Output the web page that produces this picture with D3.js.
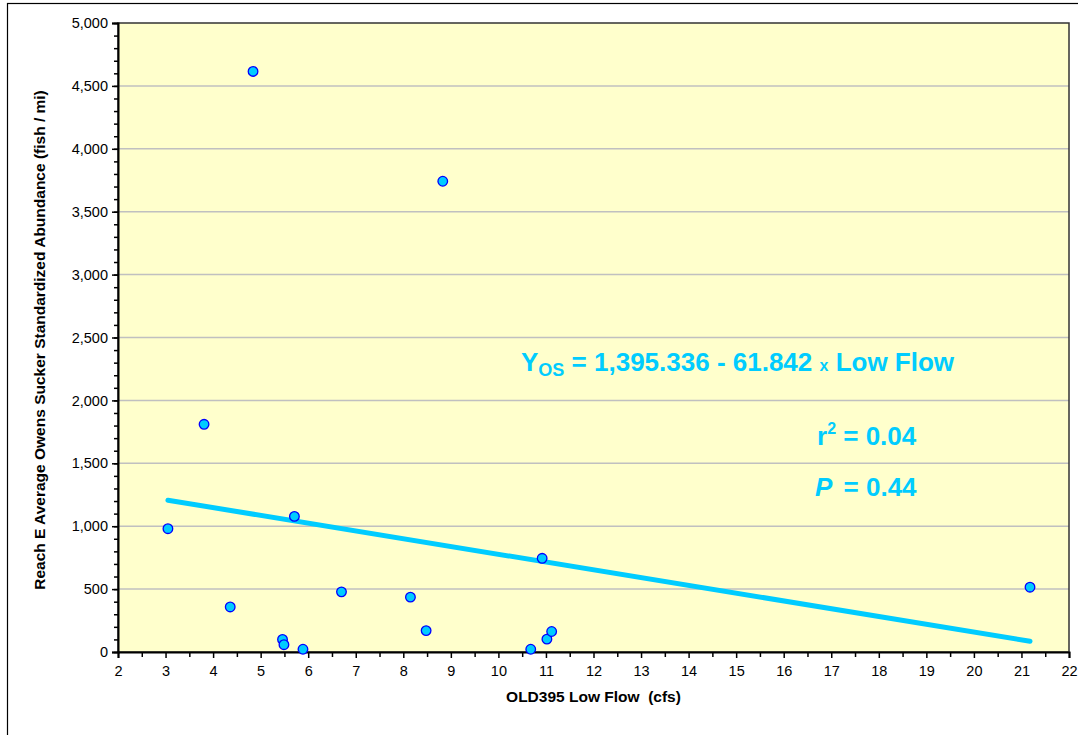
<!DOCTYPE html>
<html>
<head>
<meta charset="utf-8">
<script src="https://d3js.org/d3.v7.min.js"></script>
<style>
    body {
        margin: 0;
        padding: 0;
        background: white;
    }
    svg text {
        font-family: "Liberation Sans", Arial, sans-serif;
    }
</style>
</head>
<body>
<script>
    // low flow (cfs) and abundance (fish / mi)
    var flow = [4.84, 8.83, 3.81, 3.05, 5.71, 4.36, 5.46, 5.49, 5.89, 6.70, 8.15, 8.48, 10.68, 10.92, 11.02, 11.12, 21.18];
    var abundance = [4615, 3742, 1810, 980, 1078, 358, 100, 58, 22, 478, 436, 170, 22, 745, 102, 163, 515];

    // regression Y = a + b * x
    var intercept = 1395.336;
    var slope = -61.842;

    var xTicks = d3.range(2, 23, 1);
    var yTicks = d3.range(0, 5001, 500);

    var width = 1078, height = 735;
    var margin = {top: 23, right: 9, bottom: 83, left: 118};
    var innerW = width - margin.left - margin.right;
    var innerH = height - margin.top - margin.bottom;

    var svg = d3.select('body').append('svg')
        .attr('width', width)
        .attr('height', height);

    // outer chart frame
    svg.append('rect')
        .attr('x', 7.5).attr('y', 3.5)
        .attr('width', width + 10).attr('height', height + 10)
        .attr('fill', 'white')
        .attr('stroke', '#000')
        .attr('stroke-width', 1.2);

    var x = d3.scaleLinear().domain([2, 22]).range([0, innerW]);
    var y = d3.scaleLinear().domain([0, 5000]).range([innerH, 0]);

    var g = svg.append('g')
        .attr('transform', 'translate(' + margin.left + ',' + margin.top + ')');

    g.append('rect')
        .attr('width', innerW).attr('height', innerH)
        .attr('fill', '#FFFFCC');

    // horizontal grid
    g.selectAll('.grid')
        .data(yTicks.filter(function(d) { return d > 0 && d < 5000; }))
        .enter().append('line')
        .attr('x1', 0).attr('x2', innerW)
        .attr('y1', function(d) { return y(d); })
        .attr('y2', function(d) { return y(d); })
        .attr('stroke', '#C0C0C0')
        .attr('stroke-width', 1.5);

    g.append('rect')
        .attr('width', innerW).attr('height', innerH)
        .attr('fill', 'none')
        .attr('stroke', '#333')
        .attr('stroke-width', 1.5);

    // minor ticks
    g.append('g')
        .attr('transform', 'translate(0,' + innerH + ')')
        .call(d3.axisBottom(x).tickValues(d3.range(2.5, 22, 1)).tickSize(5).tickFormat(''))
        .call(function(s) { s.select('.domain').remove(); });
    g.append('g')
        .call(d3.axisLeft(y).tickValues(d3.range(0, 5001, 100)).tickSize(4).tickFormat(''))
        .call(function(s) { s.select('.domain').remove(); });

    var xAxis = g.append('g')
        .attr('transform', 'translate(0,' + innerH + ')')
        .call(d3.axisBottom(x).tickValues(xTicks).tickSize(6).tickPadding(8).tickFormat(d3.format('d')));
    var yAxis = g.append('g')
        .call(d3.axisLeft(y).tickValues(yTicks).tickSize(6).tickPadding(4).tickFormat(d3.format(',')));

    [xAxis, yAxis].forEach(function(a) {
        a.selectAll('text').attr('font-size', 14.5).attr('fill', '#000');
        a.select('.domain').attr('stroke', '#000').attr('stroke-width', 2);
    });
    g.selectAll('.tick line').attr('stroke', '#000').attr('stroke-width', 1.5);

    // trend line across the observed range
    var xr = d3.extent(flow);
    g.append('line')
        .attr('x1', x(xr[0])).attr('y1', y(intercept + slope * xr[0]))
        .attr('x2', x(xr[1])).attr('y2', y(intercept + slope * xr[1]))
        .attr('stroke', '#00CCFF')
        .attr('stroke-width', 5)
        .attr('stroke-linecap', 'round');

    g.selectAll('.pt')
        .data(flow)
        .enter().append('circle')
        .attr('cx', function(d) { return x(d); })
        .attr('cy', function(d, i) { return y(abundance[i]); })
        .attr('r', 4.8)
        .attr('fill', '#00CCFF')
        .attr('stroke', '#0000FF')
        .attr('stroke-width', 1.3);

    // axis titles
    svg.append('text')
        .attr('x', margin.left + innerW / 2).attr('y', 702)
        .attr('text-anchor', 'middle')
        .attr('font-size', 15.5).attr('font-weight', 'bold')
        .attr('xml:space', 'preserve')
        .text('OLD395 Low Flow  (cfs)');

    svg.append('text')
        .attr('transform', 'translate(45,' + (margin.top + 317) + ') rotate(-90)')
        .attr('text-anchor', 'middle')
        .attr('font-size', 15.5).attr('font-weight', 'bold')
        .text('Reach E Average Owens Sucker Standardized Abundance (fish / mi)');

    // regression annotation
    var eq = svg.append('text')
        .attr('x', 521).attr('y', 371)
        .attr('fill', '#00CCFF')
        .attr('font-size', 26).attr('font-weight', 'bold');
    eq.append('tspan').text('Y');
    eq.append('tspan').attr('font-size', 18).attr('dy', 5).text('OS');
    eq.append('tspan').attr('dy', -5).text(' = 1,395.336 - 61.842 ');
    eq.append('tspan').attr('font-size', 16).text('x');
    eq.append('tspan').text(' Low Flow');

    var r2 = svg.append('text')
        .attr('x', 817).attr('y', 445)
        .attr('fill', '#00CCFF')
        .attr('font-size', 26).attr('font-weight', 'bold');
    r2.append('tspan').text('r');
    r2.append('tspan').attr('font-size', 16).attr('dy', -11).text('2');
    r2.append('tspan').attr('dy', 11).text(' = 0.04');

    var p = svg.append('text')
        .attr('x', 815).attr('y', 496)
        .attr('fill', '#00CCFF')
        .attr('font-size', 26).attr('font-weight', 'bold')
        .attr('xml:space', 'preserve');
    p.append('tspan').attr('font-style', 'italic').text('P');
    p.append('tspan').attr('dx', 4).text(' = 0.44');
</script>
</body>
</html>
